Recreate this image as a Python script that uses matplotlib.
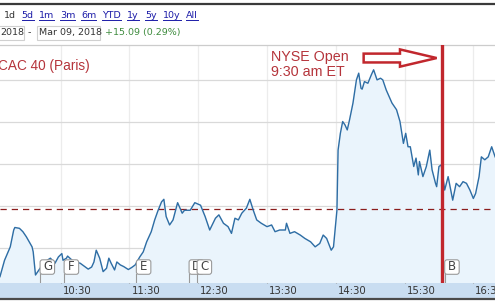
import matplotlib
matplotlib.use("Agg")
import matplotlib.pyplot as plt
from matplotlib.patches import Rectangle, FancyBboxPatch, FancyArrow
from matplotlib.transforms import IdentityTransform, ScaledTranslation
from matplotlib.lines import Line2D

W, H = 495, 302

# intraday CAC 40 quotes (time, index level)
times = ["9:37", "9:41", "9:46", "9:49", "9:50", "9:54", "9:57", "10:00", "10:05", "10:06",
         "10:08", "10:10", "10:12", "10:16", "10:21", "10:25", "10:28", "10:31", "10:32", "10:35",
         "10:36", "10:40", "10:43", "10:47", "10:51", "10:54", "10:57", "10:59", "11:01", "11:04",
         "11:07", "11:10", "11:12", "11:14", "11:17", "11:19", "11:22", "11:25", "11:29", "11:32",
         "11:35", "11:39", "11:42", "11:45", "11:49", "11:52", "11:55", "11:58", "12:00", "12:02",
         "12:05", "12:08", "12:12", "12:16", "12:18", "12:23", "12:27", "12:32", "12:36", "12:40",
         "12:45", "12:48", "12:52", "12:56", "12:59", "13:02", "13:05", "13:08", "13:12", "13:15",
         "13:18", "13:21", "13:25", "13:30", "13:34", "13:37", "13:41", "13:46", "13:47", "13:50",
         "13:54", "13:59", "14:03", "14:08", "14:12", "14:16", "14:19", "14:22", "14:26", "14:28",
         "14:31", "14:32", "14:34", "14:36", "14:38", "14:40", "14:42", "14:45", "14:48", "14:50",
         "14:52", "14:53", "14:55", "14:58", "15:01", "15:03", "15:06", "15:09", "15:11", "15:14",
         "15:19", "15:23", "15:26", "15:29", "15:31", "15:33", "15:35", "15:38", "15:40", "15:42",
         "15:43", "15:46", "15:49", "15:52", "15:54", "15:57", "15:58", "16:00", "16:02", "16:05",
         "16:08", "16:12", "16:15", "16:18", "16:21", "16:24", "16:27", "16:30", "16:32", "16:35",
         "16:37", "16:40", "16:43", "16:46", "16:49"]
prices = [5233.2, 5237.1, 5240.3, 5244.3, 5244.9, 5244.7, 5243.9, 5242.7, 5240.3, 5239.1,
          5233.6, 5234.4, 5235.2, 5236.7, 5237.6, 5236.4, 5237.9, 5238.7, 5237.1, 5237.6,
          5238.1, 5237.1, 5236.7, 5236.4, 5235.6, 5235.0, 5235.5, 5236.7, 5239.5, 5237.6,
          5234.4, 5235.2, 5237.6, 5236.4, 5234.8, 5236.7, 5236.0, 5235.6, 5234.9, 5235.4,
          5236.0, 5237.9, 5239.1, 5241.5, 5243.9, 5246.7, 5249.0, 5251.0, 5251.6, 5247.5,
          5245.5, 5246.7, 5250.8, 5248.3, 5249.0, 5249.0, 5250.8, 5250.2, 5247.5, 5244.3,
          5247.1, 5247.9, 5245.9, 5245.1, 5243.5, 5247.1, 5246.7, 5248.3, 5249.5, 5251.6,
          5249.0, 5246.7, 5245.9, 5245.1, 5245.5, 5243.9, 5244.3, 5244.3, 5245.9, 5243.5,
          5243.9, 5243.1, 5242.3, 5241.5, 5240.3, 5241.1, 5243.1, 5242.3, 5239.5, 5240.3,
          5249.0, 5263.3, 5267.3, 5270.1, 5269.3, 5268.1, 5270.5, 5274.5, 5280.0, 5281.6,
          5278.0, 5277.8, 5279.6, 5279.2, 5281.2, 5282.4, 5280.0, 5280.4, 5280.0, 5277.6,
          5274.5, 5272.9, 5270.1, 5264.9, 5267.3, 5264.1, 5264.1, 5259.4, 5261.4, 5257.4,
          5260.6, 5257.0, 5259.4, 5263.3, 5258.6, 5255.4, 5254.6, 5259.4, 5259.8, 5253.8,
          5257.0, 5251.4, 5255.4, 5254.6, 5255.8, 5255.4, 5253.8, 5251.8, 5253.0, 5257.0,
          5261.7, 5261.0, 5261.7, 5264.1, 5261.7]
assert len(times) == len(prices)

prev_close = 5249.3
grid_levels = [5240, 5250, 5260, 5270, 5280]
hour_ticks = ["10:30", "11:30", "12:30", "13:30", "14:30", "15:30", "16:30"]
nyse_open = "16:03"
flag_letters = ["G", "F", "E", "D", "C", "B"]
flag_times = ["10:12", "10:33", "11:36", "12:22", "12:29", "16:05"]
ranges = ["1d", "5d", "1m", "3m", "6m", "YTD", "1y", "5y", "10y", "All"]
range_x = [4, 21.7, 39, 60, 81, 102, 127, 145, 163, 186]

RED = "#c1272d"
LINE = "#2e6da4"


def minutes(s):
    h, m = s.split(":")
    return int(h) * 60 + int(m)


def fx(x):
    return x / W


def fy(y):
    return 1 - y / H


t = [minutes(s) for s in times]

fig = plt.figure(figsize=(W / 100, H / 100), dpi=100)
fig.patch.set_facecolor("white")
ax = fig.add_axes([0, 19 / H, 1, 238 / H])

ax.fill_between(t, prices, 5200, color="#eaf4fc", zorder=1)
ax.plot(t, prices, color=LINE, lw=1.0, zorder=3)
ax.axhline(prev_close, color="#8b1c1c", lw=0.9, dashes=(5, 4), zorder=2)
ax.axvline(minutes(nyse_open), color=RED, lw=2.4, zorder=4)

ax.set_xlim(577.04, 1008.9)
ax.set_ylim(5231.7, 5288.3)
ax.set_yticks(grid_levels)
ax.set_xticks([minutes(s) for s in hour_ticks])
ax.set_xticklabels(hour_ticks, ha="left")
ax.grid(axis="y", color="#d9d9d9", lw=0.9, zorder=0)
ax.grid(axis="x", color="#ececec", lw=0.9, zorder=0)
ax.set_axisbelow(True)
ax.tick_params(axis="y", left=False, labelleft=False)
ax.tick_params(axis="x", direction="in", length=3, width=0.8, color="#999999",
               pad=2.5, labelsize=7.3, labelcolor="#333333")
shift = ScaledTranslation(2 / 100, 0, fig.dpi_scale_trans)
for lab in ax.get_xticklabels():
    lab.set_transform(lab.get_transform() + shift)
for side in ["left", "right", "bottom"]:
    ax.spines[side].set_visible(False)
ax.spines["top"].set_color("#cccccc")
ax.spines["top"].set_linewidth(0.9)

# outlined arrow pointing at the NYSE open line
tip = minutes(nyse_open) - 5
arrow = FancyArrow(tip - 63.7, 5285.2, 63.7, 0, width=2.1, head_width=4.1,
                   head_length=32, length_includes_head=True,
                   fc="white", ec=RED, lw=1.8, zorder=5)
ax.add_patch(arrow)

# event flags (later flags sit on top of earlier ones)
fig.canvas.draw()
for i, (letter, ft) in enumerate(zip(flag_letters, flag_times)):
    z = 6 + i * 0.1
    px = ax.transData.transform((minutes(ft), 0))[0]
    ax.add_line(Line2D([px, px], [H - 283, H - 274], color="#999999", lw=0.8,
                       transform=IdentityTransform(), zorder=z))
    box = FancyBboxPatch((px, H - 274.3), 14.5, 14.5,
                         boxstyle="round,pad=0,rounding_size=2.5",
                         fc="white", ec="#9a9a9a", lw=0.8,
                         transform=IdentityTransform(), zorder=z)
    ax.add_patch(box)
    ax.text(px + 7.5, H - 267, letter, fontsize=8.5, color="#444444",
            ha="center", va="center", transform=IdentityTransform(), zorder=z + 0.05)

# time axis band and frame lines
fig.add_artist(Rectangle((0, 2), W, 17, transform=IdentityTransform(),
                         fc="#c9ddf1", ec="none", zorder=-1))
fig.add_artist(Line2D([0, W], [3, 3], color="#4a4a4a", lw=1.6,
                      transform=IdentityTransform()))
fig.add_artist(Line2D([0, W], [H - 4, H - 4], color="#3a3a3a", lw=1.6,
                      transform=IdentityTransform()))

# annotations
fig.text(fx(-2), fy(70), "CAC 40 (Paris)", fontsize=9.8, color="#b5343b",
         family="Liberation Sans", va="baseline")
fig.text(fx(271), fy(60.7), "NYSE Open", fontsize=10.3, color="#b5343b",
         family="Liberation Sans", va="baseline")
fig.text(fx(271), fy(76), "9:30 am ET", fontsize=10.3, color="#b5343b",
         family="Liberation Sans", va="baseline")

# range selector
renderer = fig.canvas.get_renderer()
for lab, x in zip(ranges, range_x):
    col = "#333333" if lab == "1d" else "#1c1ca8"
    txt = fig.text(fx(x), fy(15.5), lab, fontsize=6.8, color=col, va="center")
    if lab != "1d":
        bb = txt.get_window_extent(renderer)
        fig.add_artist(Line2D([bb.x0, bb.x1], [H - 20, H - 20], color=col, lw=0.7,
                              transform=IdentityTransform()))

# date range row
for x0, x1 in [(-5, 24), (36.7, 100)]:
    fig.add_artist(Rectangle((x0, H - 39.5), x1 - x0, 13.5, transform=IdentityTransform(),
                             fc="white", ec="#d0d0d0", lw=0.8))
fig.text(fx(0), fy(32.5), "2018", fontsize=6.8, color="#333333", va="center")
fig.text(fx(28), fy(32.5), "-", fontsize=6.8, color="#333333", va="center")
fig.text(fx(39), fy(32.5), "Mar 09, 2018", fontsize=6.8, color="#333333", va="center")
fig.text(fx(105), fy(32.5), "+15.09 (0.29%)", fontsize=6.8, color="#3d8b3d", va="center")

fig.savefig("out.png", dpi=100)
